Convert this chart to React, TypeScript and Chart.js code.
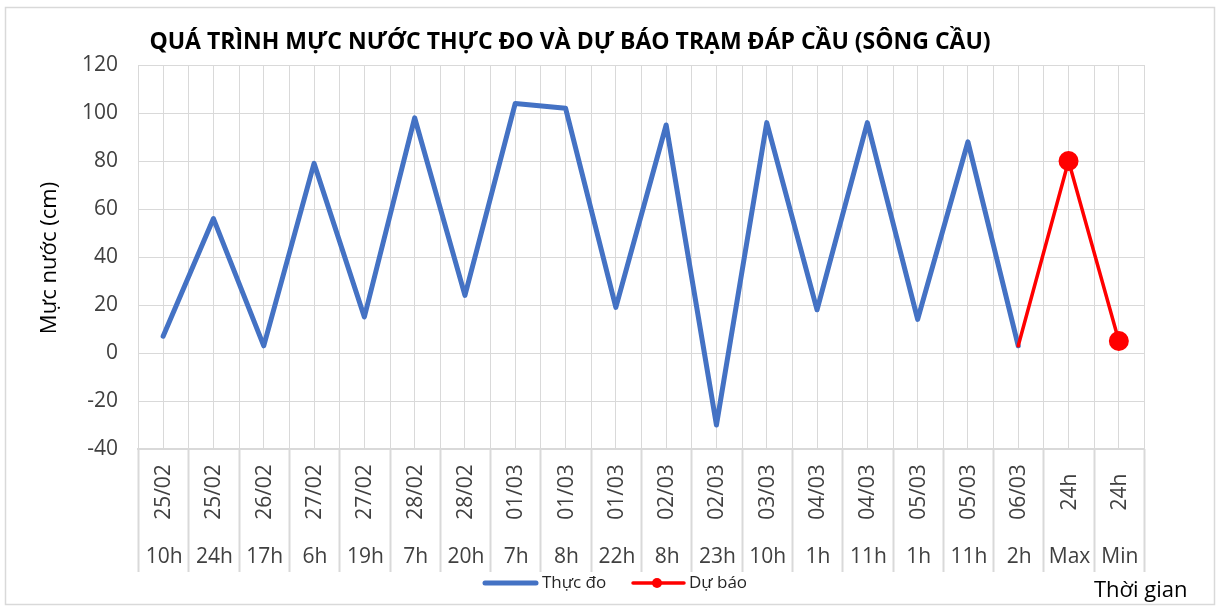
import { useEffect, useRef } from "react";
import { Chart, registerables } from "chart.js";

Chart.register(...registerables);

const chartTitle = "QUÁ TRÌNH MỰC NƯỚC THỰC ĐO VÀ DỰ BÁO TRẠM ĐÁP CẦU (SÔNG CẦU)";
const yAxisTitle = "Mực nước (cm)";
const xAxisTitle = "Thời gian";

const dateLabels = [
  "25/02", "25/02", "26/02", "27/02", "27/02", "28/02", "28/02", "01/03", "01/03", "01/03",
  "02/03", "02/03", "03/03", "04/03", "04/03", "05/03", "05/03", "06/03", "24h", "24h",
];
const hourLabels = [
  "10h", "24h", "17h", "6h", "19h", "7h", "20h", "7h", "8h", "22h",
  "8h", "23h", "10h", "1h", "11h", "1h", "11h", "2h", "Max", "Min",
];

const observedName = "Thực đo";
const forecastName = "Dự báo";

const observedValues: (number | null)[] = [
  7, 56, 3, 79, 15, 98, 24, 104, 102, 19, 95, -30, 96, 18, 96, 14, 88, 3, null, null,
];
const forecastValues: (number | null)[] = [
  null, null, null, null, null, null, null, null, null, null,
  null, null, null, null, null, null, null, 3, 80, 5,
];

const yMin = -40;
const yMax = 120;
const yStep = 20;

const FONT = '"Open Sans", sans-serif';
const BLUE = "#4472C4";
const RED = "#FF0000";
const GRID = "#d9d9d9";
const TEXT = "#404040";

export default function App() {
  const ref = useRef<HTMLCanvasElement>(null);

  useEffect(() => {
    const canvas = ref.current;
    if (!canvas) return;

    const decor = {
      id: "decor",
      beforeDatasetsDraw(chart: any) {
        const ctx = chart.ctx;
        const a = chart.chartArea;
        const n = dateLabels.length;
        const w = (a.right - a.left) / n;
        ctx.save();
        ctx.strokeStyle = GRID;
        for (let i = 0; i <= n; i++) {
          const x = Math.round(a.left + i * w) + 0.5;
          ctx.lineWidth = 1;
          ctx.beginPath();
          ctx.moveTo(x, a.top);
          ctx.lineTo(x, a.bottom);
          ctx.stroke();
          ctx.lineWidth = 2;
          ctx.beginPath();
          ctx.moveTo(x, a.bottom);
          ctx.lineTo(x, 572);
          ctx.stroke();
        }
        ctx.restore();
      },
      afterDraw(chart: any) {
        const ctx = chart.ctx;
        const xs = chart.scales.x;
        ctx.save();

        // frame
        ctx.strokeStyle = GRID;
        ctx.lineWidth = 1.5;
        ctx.strokeRect(5.5, 7.5, 1209, 597);

        // title, sized to span the same width as the reference
        ctx.fillStyle = "#000";
        ctx.textAlign = "center";
        ctx.textBaseline = "middle";
        ctx.font = `bold 21px ${FONT}`;
        const tw = ctx.measureText(chartTitle).width;
        const size = Math.min(23, (21 * 840) / tw);
        ctx.font = `bold ${size.toFixed(1)}px ${FONT}`;
        const tw2 = ctx.measureText(chartTitle).width;
        ctx.save();
        ctx.translate(570, 42);
        if (tw2 < 840) ctx.scale(840 / tw2, 1);
        ctx.fillText(chartTitle, 0, 0);
        ctx.restore();

        // y axis title
        ctx.save();
        ctx.translate(50, 258);
        ctx.rotate(-Math.PI / 2);
        ctx.font = `22px ${FONT}`;
        ctx.fillStyle = "#000";
        ctx.fillText(yAxisTitle, 0, 0);
        ctx.restore();

        // category labels
        ctx.fillStyle = TEXT;
        ctx.font = `21px ${FONT}`;
        for (let i = 0; i < dateLabels.length; i++) {
          const cx = xs.getPixelForValue(i);
          ctx.save();
          ctx.translate(cx + 1, 492);
          ctx.rotate(-Math.PI / 2);
          ctx.textAlign = "center";
          ctx.fillText(dateLabels[i], 0, 0);
          ctx.restore();
          ctx.textAlign = "center";
          ctx.fillText(hourLabels[i], cx + 1, 557);
        }

        // x axis title
        ctx.textAlign = "left";
        ctx.font = `22px ${FONT}`;
        ctx.fillStyle = "#000";
        ctx.fillText(xAxisTitle, 1094, 591);

        // legend
        ctx.lineCap = "round";
        ctx.strokeStyle = BLUE;
        ctx.lineWidth = 5;
        ctx.beginPath();
        ctx.moveTo(485, 583);
        ctx.lineTo(536, 583);
        ctx.stroke();
        ctx.strokeStyle = RED;
        ctx.lineWidth = 3.5;
        ctx.beginPath();
        ctx.moveTo(633, 583);
        ctx.lineTo(684, 583);
        ctx.stroke();
        ctx.fillStyle = RED;
        ctx.beginPath();
        ctx.arc(657, 583, 5, 0, Math.PI * 2);
        ctx.fill();
        ctx.font = `17px ${FONT}`;
        ctx.fillStyle = "#262626";
        ctx.textAlign = "left";
        ctx.fillText(observedName, 542, 583);
        ctx.fillText(forecastName, 689, 583);

        ctx.restore();
      },
    };

    const chart = new Chart(canvas, {
      type: "line",
      data: {
        labels: dateLabels.map((d, i) => `${d} ${hourLabels[i]}`),
        datasets: [
          {
            label: observedName,
            data: observedValues,
            borderColor: BLUE,
            backgroundColor: BLUE,
            borderWidth: 5,
            borderCapStyle: "round",
            borderJoinStyle: "round",
            pointRadius: 0,
            spanGaps: false,
            order: 1,
          },
          {
            label: forecastName,
            data: forecastValues,
            borderColor: RED,
            backgroundColor: RED,
            borderWidth: 3.5,
            borderCapStyle: "round",
            borderJoinStyle: "round",
            pointRadius: forecastValues.map((v, i) => (v === null || i === 17 ? 0 : 9)),
            pointBorderWidth: 2,
            pointBackgroundColor: RED,
            pointBorderColor: RED,
            order: 0,
          },
        ],
      },
      options: {
        responsive: false,
        animation: false,
        devicePixelRatio: 1,
        events: [],
        layout: { padding: { top: 65, right: 73, left: 0, bottom: 0 } },
        plugins: {
          legend: { display: false },
          title: { display: false },
          tooltip: { enabled: false },
        },
        scales: {
          x: {
            type: "category",
            offset: true,
            ticks: { display: false },
            grid: { color: GRID, lineWidth: 1, drawTicks: false, offset: false },
            border: { color: GRID, width: 2 },
            afterFit: (s: any) => {
              s.height = 159;
            },
          },
          y: {
            min: yMin,
            max: yMax,
            ticks: {
              stepSize: yStep,
              color: TEXT,
              font: { family: FONT, size: 21 },
              padding: 20,
            },
            grid: { color: GRID, lineWidth: 1, drawTicks: false },
            border: { color: GRID, width: 1 },
            afterFit: (s: any) => {
              s.width = 138;
            },
          },
        },
      },
      plugins: [decor],
    });

    return () => chart.destroy();
  }, []);

  return (
    <div style={{ position: "absolute", left: 0, top: 0, width: 1217, height: 608, background: "#fff" }}>
      <canvas ref={ref} width={1217} height={608} />
    </div>
  );
}
